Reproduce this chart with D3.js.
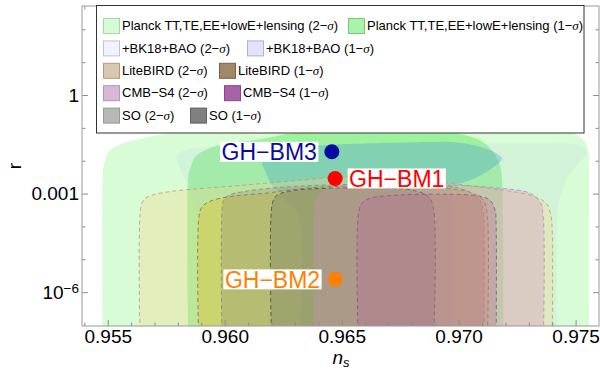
<!DOCTYPE html>
<html>
<head>
<meta charset="utf-8">
<script src="https://cdn.jsdelivr.net/npm/d3@7"></script>
<style>
  body { margin: 0; background: #fff; }
  svg { display: block; font-family: "Liberation Sans", Arial, Helvetica, sans-serif; }
</style>
</head>
<body>
<svg id="chart" width="600" height="371"></svg>
<script>
// ---- data: contour outlines, [n_s, r] ----
const planck2 = [[0.95479,1e-8],[0.95479,0.0045],[0.95483,0.0073],[0.95504,0.0183],[0.95547,0.0299],[0.95617,0.0425],[0.95745,0.065],[0.9589,0.08],[0.9613,0.102],[0.96536,0.1216],[0.96963,0.1216],[0.97262,0.1135],[0.97404,0.0857],[0.97506,0.0603],[0.9754,0.0369],[0.97555,0.0183],[0.97557,0.0073],[0.97557,1e-8]];
const planck1 = [[0.95845,1e-8],[0.95845,0.00364],[0.95853,0.0058],[0.95874,0.0132],[0.95932,0.0237],[0.95989,0.0314],[0.9613,0.0425],[0.96322,0.0742],[0.96536,0.08],[0.96835,0.08],[0.97006,0.065],[0.97104,0.0375],[0.97147,0.0187],[0.97177,0.0073],[0.97186,0.00256],[0.9719,1e-8]];
const bk2 = [[0.95877,1e-8],[0.95877,0.000312],[0.9586,0.000893],[0.95839,0.00232],[0.95818,0.0041],[0.95803,0.0073],[0.95796,0.0132],[0.9581,0.0179],[0.95846,0.0221],[0.95917,0.0247],[0.96108,0.0299],[0.96536,0.0321],[0.96963,0.0333],[0.97305,0.0333],[0.97498,0.0321],[0.97532,0.026],[0.97549,0.0183],[0.97505,0.0073],[0.97462,0.00292],[0.97441,0.00113],[0.97426,0.000443],[0.97421,0.000155],[0.97421,1e-8]];
const bk1 = [[0.96314,1e-8],[0.96314,0.00022],[0.96258,0.000629],[0.96202,0.0018],[0.96172,0.00517],[0.9616,0.00845],[0.96194,0.0167],[0.96251,0.0237],[0.96322,0.0265],[0.96536,0.0321],[0.96878,0.0369],[0.96976,0.0369],[0.97091,0.0265],[0.97163,0.0167],[0.97186,0.0117],[0.97177,0.0091],[0.9712,0.00458],[0.97049,0.00256],[0.96977,0.00159],[0.96972,0.000629],[0.96972,1e-8]];
const lb2 = [[0.9564,1e-8],[0.9564,0.000312],[0.95653,0.000629],[0.95689,0.000893],[0.95762,0.00114],[0.9586,0.00136],[0.96001,0.00162],[0.9613,0.00194],[0.96322,0.00256],[0.96493,0.00316],[0.9675,0.00295],[0.9695,0.00208],[0.9719,0.00127],[0.97305,0.000893],[0.97374,0.00051],[0.97391,0.000271],[0.97399,0.000109],[0.97399,1e-8]];
const lb1 = [[0.9589,1e-8],[0.9589,0.000196],[0.95903,0.000393],[0.95932,0.000562],[0.95989,0.000739],[0.96074,0.000893],[0.96188,0.00105],[0.96245,0.00122],[0.96408,0.00157],[0.96664,0.00168],[0.96921,0.00146],[0.97049,0.0011],[0.97104,0.000629],[0.97121,0.000271],[0.97121,1e-8]];
const so2 = [[0.95989,1e-8],[0.95989,0.000359],[0.95996,0.000629],[0.96017,0.000893],[0.96074,0.00113],[0.96194,0.00146],[0.96408,0.0018],[0.9675,0.00194],[0.96963,0.00168],[0.97049,0.0011],[0.97091,0.000629],[0.97104,0.000312],[0.97104,1e-8]];
const so1 = [[0.96202,1e-8],[0.96202,0.000443],[0.96216,0.000792],[0.96245,0.00105],[0.96301,0.00127],[0.9645,0.00146],[0.96707,0.00146],[0.96805,0.00127],[0.96869,0.000833],[0.96891,0.000413],[0.96891,1e-8]];
const s42 = [[0.96384,1e-8],[0.96384,0.000312],[0.9639,0.000629],[0.96408,0.00103],[0.9645,0.00136],[0.96536,0.00168],[0.9675,0.0018],[0.96976,0.0018],[0.97177,0.00146],[0.97305,0.00103],[0.97348,0.000562],[0.97361,0.00022],[0.97361,1e-8]];
const s41 = [[0.96572,1e-8],[0.96572,0.000253],[0.96587,0.00051],[0.96621,0.000724],[0.96735,0.000893],[0.96921,0.00096],[0.97091,0.000833],[0.97134,0.000629],[0.97156,0.000312],[0.9716,0.000133],[0.9716,1e-8]];

// benchmark points
const bmNames = ["GH\u2212BM1", "GH\u2212BM2", "GH\u2212BM3"];
const bmNs = [0.96472, 0.96472, 0.96458];
const bmR = [0.00289, 2.45e-6, 0.0187];

// ticks
const xMajor = [0.955, 0.960, 0.965, 0.970, 0.975];
const xMinor = [0.954, 0.956, 0.957, 0.958, 0.959, 0.961, 0.962, 0.963, 0.964, 0.966, 0.967, 0.968, 0.969, 0.971, 0.972, 0.973, 0.974];
const yMajor = [1, 1e-3, 1e-6];
const yMinor = [100, 10, 0.1, 0.01, 1e-4, 1e-5];

// legend
const legendNames = ["Planck TT,TE,EE+lowE+lensing", "+BK18+BAO", "LiteBIRD", "CMB\u2212S4", "SO"];

// ---- drawing ----
const svg = d3.select("#chart");
const x = d3.scaleLinear().domain([0.9539, 0.9760]).range([82, 599]);
const y = d3.scaleLog().domain([Math.pow(10, -7.03), Math.pow(10, 2.71)]).range([326, 6]);

svg.append("defs").append("clipPath").attr("id", "plotclip")
  .append("rect").attr("x", 82).attr("y", 6).attr("width", 517).attr("height", 320);

const layers = [
  { data: planck2, fill: "#d8fcd5", op: 1 },
  { data: planck1, fill: "#9ef29e", op: 1 },
  { data: bk2, fill: "rgb(185,200,245)", op: 0.16 },
  { data: bk1, fill: "rgb(60,150,200)", op: 0.3 },
  { data: lb2, fill: "rgb(250,210,140)", op: 0.32, stroke: "#b8a070" },
  { data: lb1, fill: "rgb(215,200,60)", op: 0.5, stroke: "#8a6c40" },
  { data: so2, fill: "#8c8c80", op: 0.32, stroke: "#8a8a8a" },
  { data: so1, fill: "#6c6c60", op: 0.3, stroke: "#4a4a4a" },
  { data: s42, fill: "rgb(210,140,200)", op: 0.3, stroke: "#c088c0" },
  { data: s41, fill: "rgb(190,100,150)", op: 0.3, stroke: "#9a4a9a" }
];

const line = d3.line()
  .x(d => x(d[0]))
  .y(d => y(d[1]))
  .curve(d3.curveCatmullRom.alpha(0.5));

const plot = svg.append("g").attr("clip-path", "url(#plotclip)");
layers.forEach(l => {
  plot.append("path")
    .attr("d", line(l.data) + "Z")
    .attr("fill", l.fill)
    .attr("fill-opacity", l.op)
    .attr("stroke", l.stroke || "none")
    .attr("stroke-width", 1)
    .attr("stroke-dasharray", l.stroke ? "4,3" : null)
    .attr("stroke-opacity", 0.85);
});

// axes (ticks inward)
const tickCol = "#8c8c8c";
function styleAxis(g) {
  g.select(".domain").remove();
  g.selectAll(".tick line").attr("stroke", tickCol);
  g.selectAll(".tick text").attr("fill", "#000").attr("font-size", 19)
    .attr("font-family", "'Liberation Sans', Arial, Helvetica, sans-serif");
}
svg.append("g").attr("transform", "translate(0,326)")
  .call(d3.axisBottom(x).tickValues(xMajor).tickSize(-6).tickPadding(3).tickFormat(d3.format(".3f")))
  .call(styleAxis);
svg.append("g").attr("transform", "translate(0,326)")
  .call(d3.axisBottom(x).tickValues(xMinor).tickSize(-3.5).tickFormat(""))
  .call(styleAxis);
svg.append("g").attr("transform", "translate(0,6)")
  .call(d3.axisTop(x).tickValues(xMajor).tickSize(-6).tickFormat(""))
  .call(styleAxis);
svg.append("g").attr("transform", "translate(0,6)")
  .call(d3.axisTop(x).tickValues(xMinor).tickSize(-3.5).tickFormat(""))
  .call(styleAxis);

const yAx = svg.append("g").attr("transform", "translate(82,0)")
  .call(d3.axisLeft(y).tickValues(yMajor).tickSize(-6).tickPadding(3)
    .tickFormat(d => d === 1 ? "1" : d === 1e-3 ? "0.001" : ""))
  .call(styleAxis);
// superscript label for 10^-6
yAx.selectAll(".tick").filter(d => d === 1e-6).select("text")
  .call(t => {
    t.append("tspan").text("10");
    t.append("tspan").attr("dy", "-0.42em").attr("font-size", 13.5).text("\u22126");
  });
svg.append("g").attr("transform", "translate(82,0)")
  .call(d3.axisLeft(y).tickValues(yMinor).tickSize(-3.5).tickFormat(""))
  .call(styleAxis);
svg.append("g").attr("transform", "translate(599,0)")
  .call(d3.axisRight(y).tickValues(yMajor).tickSize(-6).tickFormat(""))
  .call(styleAxis);
svg.append("g").attr("transform", "translate(599,0)")
  .call(d3.axisRight(y).tickValues(yMinor).tickSize(-3.5).tickFormat(""))
  .call(styleAxis);

// frame
svg.append("rect").attr("x", 82).attr("y", 6).attr("width", 517).attr("height", 320)
  .attr("fill", "none").attr("stroke", "#999").attr("stroke-width", 1);

// axis titles
svg.append("text").attr("transform", "translate(20.5,166) rotate(-90)")
  .attr("text-anchor", "middle").attr("font-size", 19).text("r");
const nsLab = svg.append("text").attr("x", 341).attr("y", 364).attr("text-anchor", "middle").attr("font-size", 19);
nsLab.append("tspan").attr("font-style", "italic").text("n");
nsLab.append("tspan").attr("font-style", "italic").attr("font-size", 13).attr("dy", "0.25em").text("s");

// legend
const legendFill = [["#d6fcd6", "#a8f4a8"], ["#f2f2fd", "#e2e2fa"], ["#d8c8b0", "#a08868"], ["#d8b8d8", "#a862a8"], ["#b8b8b8", "#808080"]];
const legendEdge = [["#a8d8a8", "#78c878"], ["#c0c0dc", "#b0b0d8"], ["#b09a78", "#7a6244"], ["#b694b6", "#864886"], ["#989898", "#606060"]];
const legendCol2 = [348, 247, 219, 224, 190];
const lg = svg.append("g");
lg.append("rect").attr("x", 96.5).attr("y", 5.5).attr("width", 487.5).attr("height", 127.5)
  .attr("fill", "#fff").attr("stroke", "#333").attr("stroke-width", 1);
legendNames.forEach((name, i) => {
  const cy = 25.5 + i * 22.4;
  ["2", "1"].forEach((s, j) => {
    const cx = j === 0 ? 103 : legendCol2[i];
    lg.append("rect").attr("x", cx + 0.5).attr("y", cy - 7).attr("width", 16).attr("height", 15)
      .attr("fill", legendFill[i][j]).attr("stroke", legendEdge[i][j]).attr("stroke-width", 1);
    const t = lg.append("text").attr("x", cx + 19).attr("y", cy).attr("dy", "0.36em").attr("font-size", 13);
    t.append("tspan").text(name + " (" + s + "\u2212");
    t.append("tspan").attr("font-family", "'Liberation Serif', 'DejaVu Serif', serif").attr("font-style", "italic").text("\u03c3");
    t.append("tspan").text(")");
  });
});

// benchmark points with labels on white background
const bmColor = ["#ff0000", "#ff8000", "#0a0aa0"];
const bmLeft = [false, true, true];
const bg = svg.append("g");
bmNames.forEach((name, i) => {
  const px = x(bmNs[i]), py = y(bmR[i]);
  bg.append("circle").attr("cx", px).attr("cy", py).attr("r", 7.5).attr("fill", bmColor[i]);
  const rect = bg.append("rect").attr("fill", "#fff");
  const t = bg.append("text")
    .attr("x", bmLeft[i] ? px - 15 : px + 14)
    .attr("y", py + 8.3)
    .attr("text-anchor", bmLeft[i] ? "end" : "start")
    .attr("font-size", 23)
    .attr("fill", bmColor[i])
    .text(name);
  const b = t.node().getBBox();
  rect.attr("x", b.x - 1.5).attr("y", py - 10).attr("width", b.width + 3).attr("height", 20);
});
</script>
</body>
</html>
